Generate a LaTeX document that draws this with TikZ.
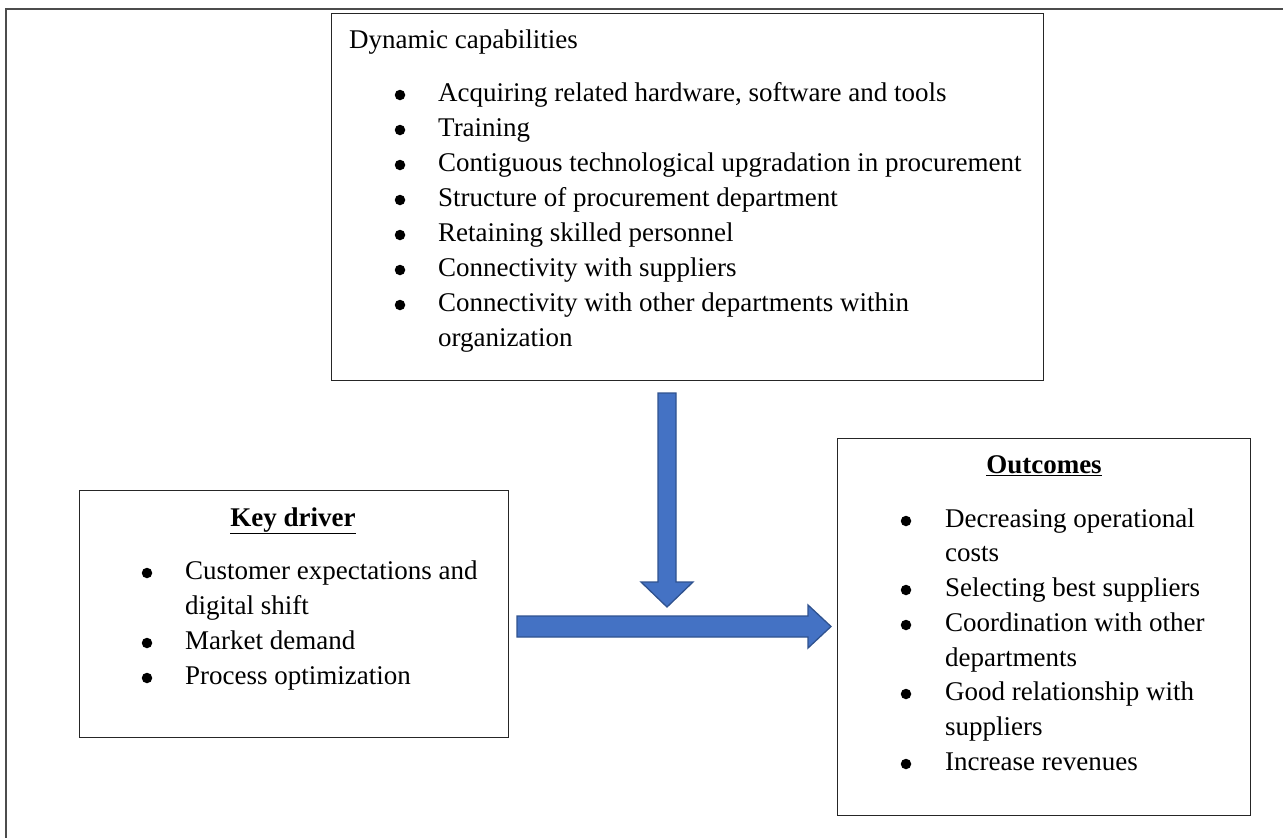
\documentclass[tikz,border=0pt]{standalone}
\usepackage{fontspec}
\setmainfont{Liberation Serif}
\usetikzlibrary{calc}
\begin{document}
\begin{tikzpicture}[x=1pt,y=-1pt,
  box/.style={draw=black!85,line width=1.4pt,fill=white,inner sep=0pt,anchor=north west},
  txt/.style={inner sep=0pt,anchor=base west,font=\fontsize{27}{35}\selectfont},
  title/.style={inner sep=0pt,anchor=base,font=\fontsize{27}{35}\selectfont\bfseries},
  dot/.style={circle,fill=black,inner sep=0pt,minimum size=10.5pt},
  frame/.style={draw=black!70,line width=2pt},
  blockarrow/.style={fill=arrowblue,draw=arrowedge,line width=1.3pt,line join=miter}]
\definecolor{arrowblue}{HTML}{4472C4}
\definecolor{arrowedge}{HTML}{2F528F}
\useasboundingbox (0,0) rectangle (1283,838);

% page frame: top and left rules only
\coordinate (fTL) at (6,9);
\coordinate (fTR) at (1283,9);
\coordinate (fBL) at (6,838);
\draw[frame] (fBL) -- (fTL) -- (fTR);

% boxes
\node[box,minimum width=712pt,minimum height=367pt] (dyn) at (331,13) {};
\node[box,minimum width=429pt,minimum height=247pt] (key) at (79,490) {};
\node[box,minimum width=413pt,minimum height=377pt] (out) at (837,438) {};

% Dynamic capabilities
\node[txt] (d0) at (349,48) {Dynamic capabilities};
\foreach \y/\t [count=\i] in {
  101/{Acquiring related hardware, software and tools},
  136/{Training},
  171/{Contiguous technological upgradation in procurement},
  206/{Structure of procurement department},
  241/{Retaining skilled personnel},
  276/{Connectivity with suppliers},
  311/{Connectivity with other departments within}}{
  \node[dot] (db\i) at (400,\y-6) {};
  \node[txt] (d\i) at (438,\y) {\t};
}
\node[txt] (d8) at (438,346) {organization};

% Key driver
\node[title] (k0) at (293,526) {\underline{Key driver}};
\foreach \y in {579,649,684}{
  \node[dot] (kb\y) at (147,\y-6) {};
}
\node[txt] (k1) at (185,579) {Customer expectations and};
\node[txt] (k2) at (185,614) {digital shift};
\node[txt] (k3) at (185,649) {Market demand};
\node[txt] (k4) at (185,684) {Process optimization};

% Outcomes
\node[title] (o0) at (1044,473) {\underline{Outcomes}};
\foreach \y in {527,596,631,700,770}{
  \node[dot] (ob\y) at (906,\y-6) {};
}
\node[txt] (o1) at (945,527) {Decreasing operational};
\node[txt] (o2) at (945,561) {costs};
\node[txt] (o3) at (945,596) {Selecting best suppliers};
\node[txt] (o4) at (945,631) {Coordination with other};
\node[txt] (o5) at (945,666) {departments};
\node[txt] (o6) at (945,700) {Good relationship with};
\node[txt] (o7) at (945,735) {suppliers};
\node[txt] (o8) at (945,770) {Increase revenues};

% block arrow from the capabilities box downwards
\coordinate (dtop) at (667,393);
\coordinate (dtip) at (667,607);
\draw[blockarrow] ($(dtop)+(-9,0)$) -- ($(dtop)+(9,0)$) -- (676,582) -- (693,582)
  -- (dtip) -- (641,582) -- (658,582) -- cycle;

% block arrow from the key driver box to the outcomes box
\coordinate (rstart) at (517,626.5);
\coordinate (rtip) at (831,626.5);
\draw[blockarrow] (517,616) -- (808,616) -- (808,605) -- (rtip) -- (808,648)
  -- (808,637) -- (517,637) -- cycle;
\end{tikzpicture}
\end{document}
